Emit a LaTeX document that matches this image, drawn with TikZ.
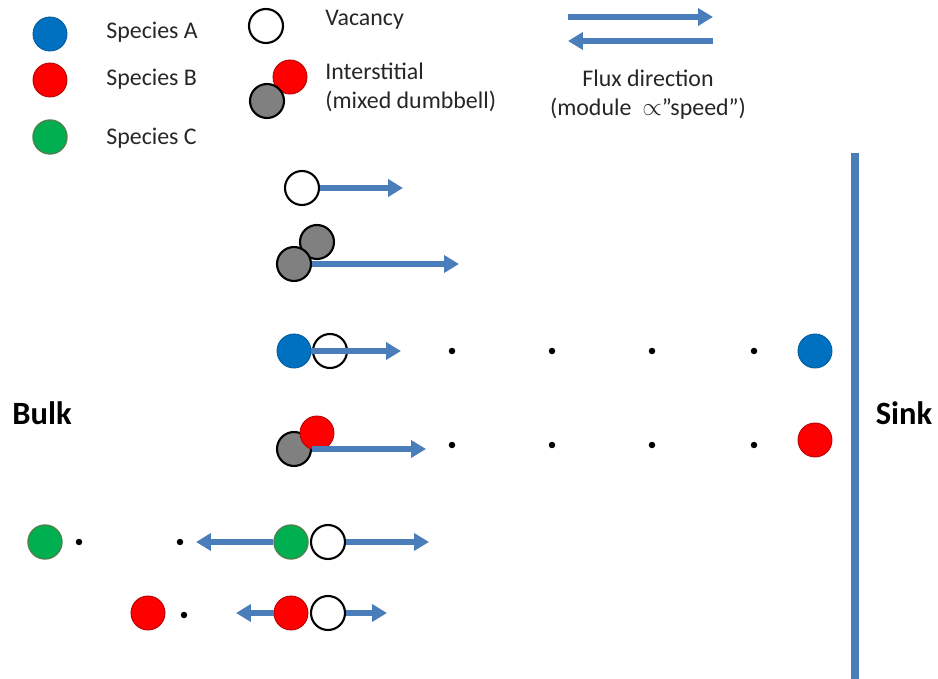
\documentclass[tikz,border=0pt]{standalone}
\usepackage{fontspec}
\setmainfont{Carlito}
\usetikzlibrary{arrows.meta,positioning}
\definecolor{fluxblue}{RGB}{74,126,187}
\definecolor{specA}{RGB}{0,112,192}
\definecolor{specB}{RGB}{255,0,0}
\definecolor{specC}{RGB}{0,176,80}

\begin{document}
\begin{tikzpicture}[
    x=0.02cm, y=-0.02cm,
    atom/.style = {circle, inner sep=0pt, minimum size=0.68cm},
    atomA/.style = {atom, fill=specA, draw=specA!80!black, line width=0.5pt},
    atomB/.style = {atom, fill=specB, draw=specB!70!black, line width=0.5pt},
    atomC/.style = {atom, fill=specC, draw=green!30!black!70, line width=0.8pt},
    vac/.style = {atom, fill=white, draw=black, line width=1.2pt},
    self/.style = {atom, fill=gray, draw=black, line width=1.2pt},
    pt/.style = {circle, fill=black, inner sep=0pt, minimum size=0.13cm},
    flux/.style = {draw=fluxblue, line width=3.3pt, -{Triangle[length=0.3cm, width=0.34cm]}},
    label/.style = {font=\fontsize{13.6}{16.5}\selectfont, text=black!85, inner sep=0pt},
    bold/.style = {font=\fontsize{18.5}{20}\selectfont\bfseries}
]
    \useasboundingbox (0,0) rectangle (938,679);
    % Legend
    \node[atomA] (legA) at (50,34) {};
    \node[atomB] (legB) at (50,80) {};
    \node[atomC] (legC) at (50,137) {};
    \node[label, anchor=west] (txtA) at (106,32) {Species A};
    \node[label, anchor=west] (txtB) at (106,79) {Species B};
    \node[label, anchor=west] (txtC) at (106,138) {Species C};
    \node[vac] (legV) at (266,26) {};
    \node[label, anchor=west] (txtV) at (325,20) {Vacancy};
    \node[atomB] (legI2) at (290,77) {};
    \node[self] (legI1) at (267,101) {};
    \node[label, anchor=west, align=left] (txtI) at (325,87) {Interstitial\\(mixed dumbbell)};
    \coordinate (fluxR0) at (568,17);
    \coordinate (fluxR1) at (713,17);
    \coordinate (fluxL0) at (713,41);
    \coordinate (fluxL1) at (568,41);
    \draw[flux, line width=3.8pt] (fluxR0) -- (fluxR1);
    \draw[flux, line width=3.8pt] (fluxL0) -- (fluxL1);
    \node[label] (txtF1) at (648,78) {Flux direction};
    \node[label] (txtF2) at (648,109) {(module \ $\propto$”speed”)};

    % Sink and bulk
    \coordinate (sinkTop) at (855,153);
    \coordinate (sinkBot) at (855,679);
    \draw[fluxblue, line width=4.5pt] (sinkTop) -- (sinkBot);
    \node[bold] (bulk) at (42,413) {Bulk};
    \node[bold] (sink) at (904,413) {Sink};

    % Row 1: vacancy
    \node[vac] (v1) at (302,188) {};
    \coordinate (e1) at (403,188);
    \draw[flux] (v1) -- (e1);

    % Row 2: self interstitial
    \node[self] (g2b) at (317,242) {};
    \node[self] (g2a) at (294,264) {};
    \coordinate (e2) at (459,264);
    \draw[flux] (g2a.east) -- (e2);

    % Row 3: A + vacancy
    \node[atomA] (a3) at (294,351) {};
    \node[vac] (v3) at (330,351) {};
    \coordinate (e3) at (401,351);
    \draw[flux] (a3.east) -- (e3);
    \foreach \x in {452,552,652,754}
        \node[pt] at (\x,351) {};
    \node[atomA] (a3s) at (815,351) {};

    % Row 4: mixed dumbbell
    \node[self] (g4) at (294,449) {};
    \node[atomB] (b4) at (317,433) {};
    \coordinate (e4) at (426,449);
    \draw[flux] (g4.east) -- (e4);
    \foreach \x in {452,552,652,754}
        \node[pt] at (\x,445) {};
    \node[atomB] (b4s) at (815,440) {};

    % Row 5: C + vacancy
    \node[atomC] (c5f) at (45,542) {};
    \node[pt] (d5a) at (79,542) {};
    \node[pt] (d5b) at (180,542) {};
    \node[atomC] (c5) at (291,542) {};
    \node[vac] (v5) at (328,542) {};
    \coordinate (l5) at (196,542);
    \coordinate (r5) at (429,542);
    \draw[flux] (c5) -- (l5);
    \draw[flux] (v5) -- (r5);

    % Row 6: B + vacancy
    \node[atomB] (b6f) at (148,613) {};
    \node[pt] (d6) at (184,615) {};
    \node[atomB] (b6) at (291,613) {};
    \node[vac] (v6) at (328,613) {};
    \coordinate (l6) at (236,613);
    \coordinate (r6) at (387,613);
    \draw[flux] (b6) -- (l6);
    \draw[flux] (v6) -- (r6);
\end{tikzpicture}
\end{document}
